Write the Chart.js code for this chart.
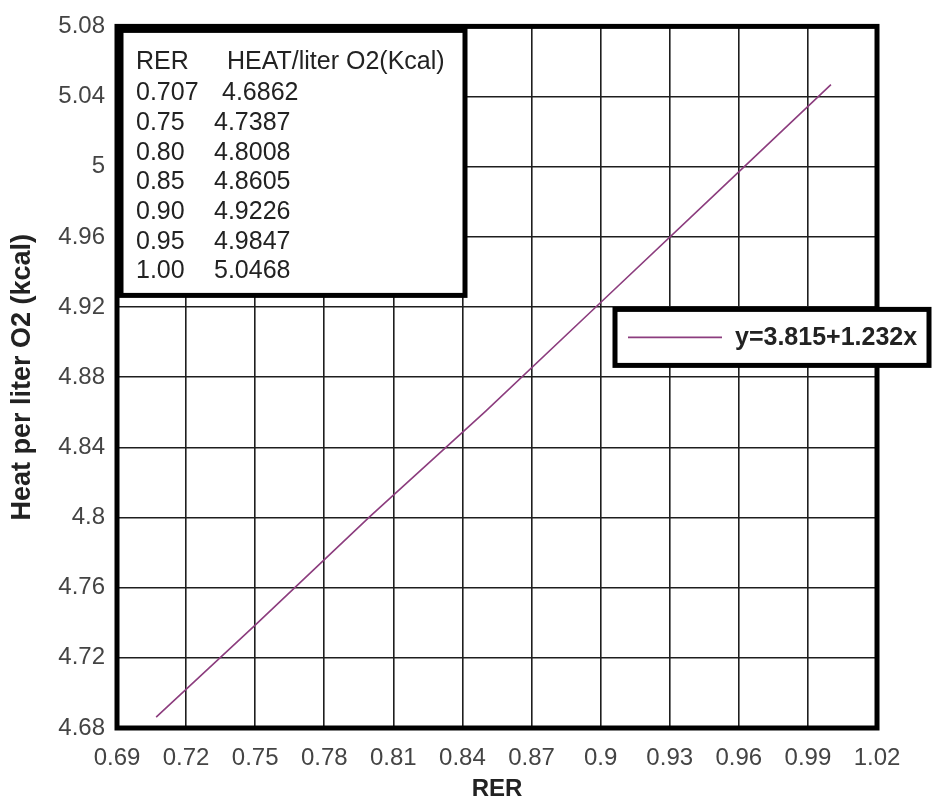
<!DOCTYPE html>
<html>
<head>
<meta charset="utf-8">
<script src="https://cdn.jsdelivr.net/npm/chart.js@4.4.1/dist/chart.umd.min.js"></script>
<style>
  html, body { margin: 0; padding: 0; background: #fff; }
  #wrap { width: 934px; height: 801px; }
</style>
</head>
<body>
<div id="wrap"><canvas id="chart" width="934" height="801"></canvas></div>
<script>
/* RER vs. teplo na litr O2 – tabulka + přímka */

const RER_VALUES  = ['0.707', '0.75', '0.80', '0.85', '0.90', '0.95', '1.00'];
const HEAT_VALUES = ['4.6862', '4.7387', '4.8008', '4.8605', '4.9226', '4.9847', '5.0468'];
const X_TICKS = ['0.69', '0.72', '0.75', '0.78', '0.81', '0.84', '0.87', '0.9', '0.93', '0.96', '0.99', '1.02'];
const Y_TICKS = ['4.68', '4.72', '4.76', '4.8', '4.84', '4.88', '4.92', '4.96', '5', '5.04', '5.08'];
const TABLE_HEAD = ['RER', 'HEAT/liter O2(Kcal)'];
const FIT_LABEL = 'y=3.815+1.232x';
const X_TITLE = 'RER';
const Y_TITLE = 'Heat per liter O2 (kcal)';

const FONT = '"Liberation Sans", Arial, sans-serif';
const INK = '#222';
const LINE_COLOR = '#8c3d7e';

// rámeček grafu, tabulka vlevo nahoře a legenda s rovnicí
const boxes = {
  id: 'boxes',
  afterDatasetsDraw(chart) {
    const { ctx, chartArea: a } = chart;
    ctx.save();
    ctx.strokeStyle = '#000';
    ctx.lineWidth = 5;
    ctx.strokeRect(a.left, a.top, a.right - a.left, a.bottom - a.top);

    // tabulka
    const tx = a.left + 4, ty = a.top + 4;
    ctx.fillStyle = '#fff';
    ctx.fillRect(tx, ty, 344, 265);
    ctx.strokeRect(tx, ty, 344, 265);
    ctx.fillStyle = INK;
    ctx.font = '25px ' + FONT;
    ctx.textBaseline = 'middle';
    ctx.textAlign = 'left';
    ctx.fillText(TABLE_HEAD[0], a.left + 19, a.top + 36);
    ctx.fillText(TABLE_HEAD[1], a.left + 110, a.top + 36);
    RER_VALUES.forEach((r, i) => {
      const y = a.top + 67 + i * 29.7;
      ctx.fillText(r, a.left + 19, y);
      ctx.fillText(HEAT_VALUES[i], a.left + (i === 0 ? 105 : 97), y);
    });

    // legenda
    const lx = a.right - 262, ly = a.top + 283;
    ctx.fillStyle = '#fff';
    ctx.fillRect(lx, ly, 314, 56);
    ctx.strokeRect(lx, ly, 314, 56);
    const ds = chart.data.datasets[0];
    ctx.strokeStyle = ds.borderColor;
    ctx.lineWidth = 1.6;
    ctx.beginPath();
    ctx.moveTo(lx + 13, ly + 28);
    ctx.lineTo(lx + 107, ly + 28);
    ctx.stroke();
    ctx.fillStyle = INK;
    ctx.font = 'bold 25px ' + FONT;
    ctx.fillText(ds.label, lx + 120, ly + 29);
    ctx.restore();
  }
};

const fixTicks = (labels) => (scale) => {
  scale.ticks = labels.map(v => ({ value: parseFloat(v), label: v }));
};

new Chart(document.getElementById('chart'), {
  type: 'line',
  data: {
    datasets: [{
      label: FIT_LABEL,
      data: RER_VALUES.map((r, i) => ({ x: parseFloat(r), y: parseFloat(HEAT_VALUES[i]) })),
      borderColor: LINE_COLOR,
      borderWidth: 1.6,
      pointRadius: 0,
      tension: 0,
      fill: false,
    }]
  },
  options: {
    responsive: false,
    animation: false,
    layout: { padding: { left: 0, right: 57, top: 21, bottom: 0 } },
    plugins: {
      legend: { display: false },
      tooltip: { enabled: false },
    },
    scales: {
      x: {
        type: 'linear',
        min: 0.69, max: 1.02,
        afterBuildTicks: fixTicks(X_TICKS),
        afterFit: (s) => { s.height = 73; },
        grid: { color: '#1e1e1e', lineWidth: 1.6, drawTicks: false },
        border: { display: false },
        ticks: {
          padding: 16,
          color: '#444',
          font: { family: FONT, size: 24 },
          maxRotation: 0,
          autoSkip: false,
          callback: (v, i) => X_TICKS[i],
        },
        title: {
          display: true, text: X_TITLE, color: INK,
          font: { family: FONT, size: 24, weight: 'bold', lineHeight: 1 },
          padding: { top: 0, bottom: 0 },
        },
      },
      y: {
        type: 'linear',
        min: 4.68, max: 5.08,
        afterBuildTicks: fixTicks(Y_TICKS),
        afterFit: (s) => { s.width = 117; },
        grid: { color: '#1e1e1e', lineWidth: 1.6, drawTicks: false },
        border: { display: false },
        ticks: {
          padding: 12,
          color: '#444',
          font: { family: FONT, size: 24 },
          autoSkip: false,
          callback: (v, i) => Y_TICKS[i],
        },
        title: {
          display: true, text: Y_TITLE, color: INK,
          font: { family: FONT, size: 27, weight: 'bold', lineHeight: 1.2 },
          padding: { top: 6, bottom: 0 },
        },
      },
    },
  },
  plugins: [boxes],
});
</script>
</body>
</html>
